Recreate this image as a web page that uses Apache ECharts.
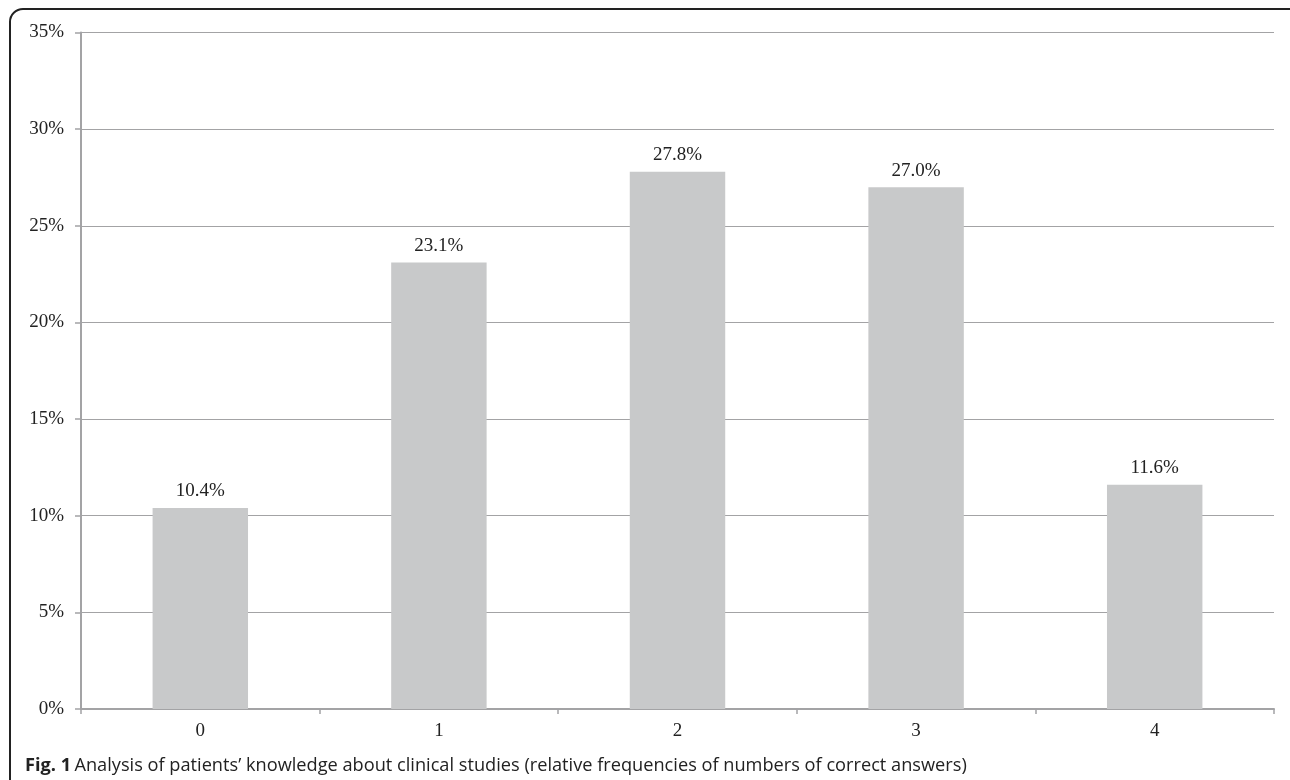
<!DOCTYPE html>
<html><head><meta charset="utf-8">
<script src="https://cdn.jsdelivr.net/npm/echarts@6/dist/echarts.min.js"></script>
<style>
html,body{margin:0;padding:0;background:#fff;width:1290px;height:780px;overflow:hidden;}
#frame{position:absolute;left:9px;top:8px;width:1296px;height:820px;border:2px solid #222;border-radius:14px;box-sizing:border-box;}
#chart{position:absolute;left:0;top:0;width:1290px;height:780px;}
</style></head>
<body>
<div id="frame"></div>
<div id="chart"></div>
<script>
const categories = ['0', '1', '2', '3', '4'];
const values = [10.4, 23.1, 27.8, 27.0, 11.6];
const yTicks = [0, 5, 10, 15, 20, 25, 30, 35];
const captionBold = 'Fig. 1';
const captionText = 'Analysis of patients\u2019 knowledge about clinical studies (relative frequencies of numbers of correct answers)';

const chart = echarts.init(document.getElementById('chart'), null, {renderer: 'canvas'});
const serif = '"Liberation Serif", "Times New Roman", serif';
chart.setOption({
  animation: false,
  backgroundColor: 'transparent',
  grid: {left: 81, right: 16, top: 32.5, bottom: 71, containLabel: false},
  xAxis: {
    type: 'category',
    data: categories,
    axisLine: {show: true, lineStyle: {color: '#a3a3a5', width: 2}},
    axisTick: {show: true, alignWithLabel: false, length: 5, lineStyle: {color: '#a3a3a5', width: 1.5}},
    axisLabel: {fontFamily: serif, fontSize: 19, color: '#222', margin: 13}
  },
  yAxis: {
    type: 'value',
    min: yTicks[0], max: yTicks[yTicks.length - 1], interval: 5,
    axisLine: {show: true, lineStyle: {color: '#a3a3a5', width: 2}},
    axisTick: {show: true, length: 6, lineStyle: {color: '#a3a3a5', width: 1.5}},
    splitLine: {show: true, lineStyle: {color: '#a3a3a5', width: 1.2}},
    axisLabel: {fontFamily: serif, fontSize: 19, color: '#222', margin: 17, formatter: v => v + '%'}
  },
  series: [{
    type: 'bar',
    data: values,
    barWidth: '40%',
    itemStyle: {color: '#c8c9ca'},
    label: {show: true, position: 'top', distance: 7, fontFamily: serif, fontSize: 19, color: '#222', formatter: p => p.value.toFixed(1) + '%'}
  }],
  graphic: [{
    type: 'text', left: 25, top: 757,
    style: {
      rich: {
        b: {fontFamily: '"Open Sans", sans-serif', fontWeight: 'bold', fontSize: 18.2, fill: '#222'},
        n: {fontFamily: '"Open Sans", sans-serif', fontSize: 18.2, fill: '#222'}
      },
      text: '{b|' + captionBold + '} {n|' + captionText + '}'
    }
  }]
});
</script>
</body></html>
